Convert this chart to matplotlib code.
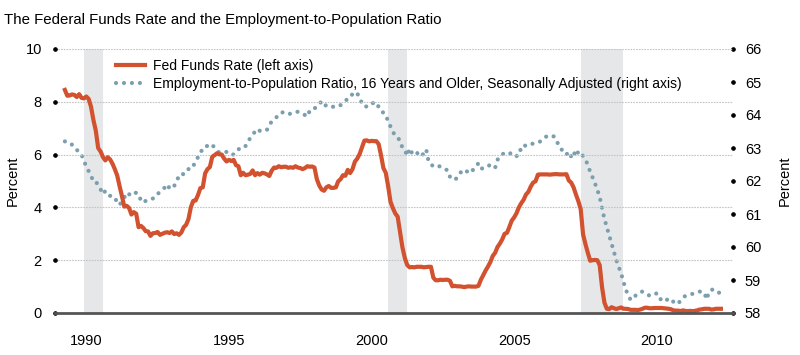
"""
Fed funds rate vs. employment-to-population ratio, 1990-2012
"""
import numpy as np
import matplotlib
matplotlib.use("Agg")
import matplotlib.pyplot as plt

plt.rcParams['font.family'] = ['Liberation Sans', 'DejaVu Sans']

# monthly series, first value = Dec 1989
START = 1989 + 11 / 12

FED_FUNDS = [
    8.45,
    8.23, 8.24, 8.28, 8.26, 8.18, 8.29, 8.15, 8.13, 8.20, 8.11, 7.81, 7.31,  # 1990
    6.91, 6.25, 6.12, 5.91, 5.78, 5.90, 5.82, 5.66, 5.45, 5.21, 4.81, 4.43,  # 1991
    4.03, 4.06, 3.98, 3.73, 3.82, 3.76, 3.25, 3.30, 3.22, 3.10, 3.09, 2.92,  # 1992
    3.02, 3.03, 3.07, 2.96, 3.00, 3.04, 3.06, 3.03, 3.09, 2.99, 3.02, 2.96,  # 1993
    3.05, 3.25, 3.34, 3.56, 4.01, 4.25, 4.26, 4.47, 4.73, 4.76, 5.29, 5.45,  # 1994
    5.53, 5.92, 5.98, 6.05, 6.01, 6.00, 5.85, 5.74, 5.80, 5.76, 5.80, 5.60,  # 1995
    5.56, 5.22, 5.31, 5.22, 5.24, 5.27, 5.40, 5.22, 5.30, 5.24, 5.31, 5.29,  # 1996
    5.25, 5.19, 5.39, 5.51, 5.50, 5.56, 5.52, 5.54, 5.54, 5.50, 5.52, 5.50,  # 1997
    5.56, 5.51, 5.49, 5.45, 5.49, 5.56, 5.54, 5.55, 5.51, 5.07, 4.83, 4.68,  # 1998
    4.63, 4.76, 4.81, 4.74, 4.74, 4.76, 4.99, 5.07, 5.22, 5.20, 5.42, 5.30,  # 1999
    5.45, 5.73, 5.85, 6.02, 6.27, 6.53, 6.54, 6.50, 6.52, 6.51, 6.51, 6.40,  # 2000
    5.98, 5.49, 5.31, 4.80, 4.21, 3.97, 3.77, 3.65, 3.07, 2.49, 2.09, 1.82,  # 2001
    1.73, 1.74, 1.73, 1.75, 1.75, 1.75, 1.73, 1.74, 1.75, 1.75, 1.34, 1.24,  # 2002
    1.24, 1.26, 1.25, 1.26, 1.26, 1.22, 1.01, 1.03, 1.01, 1.01, 1.00, 0.98,  # 2003
    1.00, 1.01, 1.00, 1.00, 1.00, 1.03, 1.26, 1.43, 1.61, 1.76, 1.93, 2.16,  # 2004
    2.28, 2.50, 2.63, 2.79, 3.00, 3.04, 3.26, 3.50, 3.62, 3.78, 4.00, 4.16,  # 2005
    4.29, 4.49, 4.59, 4.79, 4.94, 4.99, 5.24, 5.25, 5.25, 5.25, 5.25, 5.24,  # 2006
    5.25, 5.26, 5.26, 5.25, 5.25, 5.25, 5.26, 5.02, 4.94, 4.76, 4.49, 4.24,  # 2007
    3.94, 2.98, 2.61, 2.28, 1.98, 2.00, 2.01, 2.00, 1.81, 0.97, 0.39, 0.16,  # 2008
    0.15, 0.22, 0.18, 0.15, 0.18, 0.21, 0.16, 0.16, 0.15, 0.12, 0.12, 0.12,  # 2009
    0.11, 0.13, 0.16, 0.20, 0.20, 0.18, 0.18, 0.19, 0.19, 0.19, 0.19, 0.18,  # 2010
    0.17, 0.16, 0.14, 0.10, 0.09, 0.09, 0.07, 0.10, 0.08, 0.07, 0.08, 0.07,  # 2011
    0.08, 0.10, 0.13, 0.14, 0.16, 0.16, 0.16, 0.13, 0.14, 0.16, 0.16, 0.16,  # 2012
]

EMP_POP = [
    63.2,
    63.2, 63.15, 63.1, 63.0, 62.95, 62.85, 62.8, 62.6, 62.45, 62.3, 62.15, 62.0,  # 1990
    62.0, 61.85, 61.75, 61.6, 61.7, 61.6, 61.55, 61.55, 61.5, 61.35, 61.27, 61.4,  # 1991
    61.5, 61.65, 61.6, 61.55, 61.6, 61.65, 61.5, 61.45, 61.34, 61.4, 61.44, 61.45,  # 1992
    61.47, 61.5, 61.6, 61.68, 61.74, 61.8, 61.9, 61.78, 61.76, 61.85, 62.0, 62.15,  # 1993
    62.23, 62.2, 62.25, 62.36, 62.35, 62.45, 62.6, 62.72, 62.88, 62.95, 63.06, 63.06,  # 1994
    63.12, 63.1, 63.0, 62.92, 62.86, 62.87, 62.89, 62.88, 62.89, 62.82, 62.8, 62.88,  # 1995
    62.95, 63.04, 63.05, 63.06, 63.2, 63.3, 63.4, 63.5, 63.58, 63.52, 63.5, 63.53,  # 1996
    63.55, 63.7, 63.8, 63.88, 63.93, 64.03, 64.05, 64.1, 64.08, 64.05, 64.03, 64.05,  # 1997
    64.08, 64.1, 64.07, 64.03, 64.0, 63.95, 64.13, 64.13, 64.2, 64.25, 64.35, 64.4,  # 1998
    64.27, 64.3, 64.3, 64.25, 64.25, 64.25, 64.25, 64.3, 64.37, 64.42, 64.5, 64.6,  # 1999
    64.62, 64.7, 64.65, 64.53, 64.35, 64.25, 64.26, 64.27, 64.3, 64.4, 64.35, 64.25,  # 2000
    64.2, 64.05, 64.0, 63.8, 63.65, 63.5, 63.35, 63.3, 63.24, 63.0, 62.94, 62.76,  # 2001
    62.99, 62.85, 62.79, 62.86, 62.8, 62.74, 62.85, 62.96, 62.59, 62.5, 62.45, 62.47,  # 2002
    62.48, 62.42, 62.38, 62.35, 62.33, 62.13, 62.1, 62.03, 62.1, 62.18, 62.33, 62.33,  # 2003
    62.3, 62.23, 62.3, 62.35, 62.45, 62.54, 62.38, 62.38, 62.4, 62.46, 62.48, 62.4,  # 2004
    62.4, 62.64, 62.76, 62.8, 62.86, 62.86, 62.86, 62.8, 62.74, 62.74, 62.94, 62.94,  # 2005
    63.09, 63.06, 63.06, 63.1, 63.14, 63.15, 63.16, 63.2, 63.26, 63.33, 63.36, 63.39,  # 2006
    63.37, 63.34, 63.2, 63.04, 62.95, 62.92, 62.8, 62.89, 62.74, 62.89, 62.74, 62.89,  # 2007
    62.89, 62.75, 62.66, 62.48, 62.28, 62.11, 61.93, 61.73, 61.52, 61.17, 60.85, 60.6,  # 2008
    60.36, 60.1, 59.85, 59.6, 59.4, 59.2, 58.95, 58.7, 58.55, 58.4, 58.5, 58.52,  # 2009
    58.6, 58.63, 58.65, 58.6, 58.55, 58.53, 58.52, 58.55, 58.6, 58.45, 58.4, 58.34,  # 2010
    58.38, 58.45, 58.4, 58.34, 58.3, 58.27, 58.39, 58.45, 58.52, 58.53, 58.55, 58.58,  # 2011
    58.6, 58.62, 58.65, 58.64, 58.62, 58.41, 58.65, 58.7, 58.72, 58.68, 58.62, 58.6,  # 2012
]

RECESSIONS = [(1990.58, 1991.25), (2001.25, 2001.92), (2008.0, 2009.5)]
YEAR_LABELS = [1990, 1995, 2000, 2005, 2010]
LEFT_TICKS = [0, 2, 4, 6, 8, 10]
RIGHT_TICKS = [58, 59, 60, 61, 62, 63, 64, 65, 66]

ORANGE = "#d2512e"
BLUE = "#7b9fae"


def main():
    t = START + np.arange(len(FED_FUNDS)) / 12
    t2 = START + np.arange(len(EMP_POP)) / 12

    fig = plt.figure(figsize=(8, 3.55), dpi=100)
    ax = fig.add_axes([55 / 800, 42 / 355, 678 / 800, 264 / 355])
    ax2 = ax.twinx()
    ax.set_zorder(ax2.get_zorder() + 1)
    ax.patch.set_visible(False)

    # recession bands
    for a, b in RECESSIONS:
        ax2.axvspan(a, b, color="#e6e7e9", lw=0, zorder=0)

    ax2.plot(t2, EMP_POP, color=BLUE, lw=3.0, linestyle=(0, (0.01, 1.9)),
             dash_capstyle="round",
             label="Employment-to-Population Ratio, 16 Years and Older, Seasonally Adjusted (right axis)")
    ax.plot(t, FED_FUNDS, color=ORANGE, lw=3.0, solid_joinstyle="round",
            label="Fed Funds Rate (left axis)")

    ax.set_xlim(1989.57, 2013.34)
    ax.set_ylim(0, 10)
    ax2.set_ylim(58, 66)

    ax.set_yticks(LEFT_TICKS)
    ax2.set_yticks(RIGHT_TICKS)
    ax.set_xticks([y + 0.67 for y in YEAR_LABELS])
    ax.set_xticklabels([str(y) for y in YEAR_LABELS])

    ax.yaxis.grid(True, color="#c4c4c4", linestyle=(0, (1.5, 1)), lw=0.8)
    ax.set_axisbelow(True)

    for a in (ax, ax2):
        for s in ("top", "left", "right"):
            a.spines[s].set_visible(False)
    ax.spines["bottom"].set_color("#555555")
    ax.spines["bottom"].set_linewidth(2)
    ax2.spines["bottom"].set_visible(False)

    ax.tick_params(axis="x", length=0, pad=15, labelsize=10.5)
    ax.tick_params(axis="y", labelsize=10.5, pad=6)
    ax2.tick_params(axis="y", labelsize=10.5, pad=5)
    # dot-shaped tick marks
    for tk in ax.yaxis.get_major_ticks():
        tk.tick1line.set_marker("o")
        tk.tick1line.set_markersize(2.5)
        tk.tick1line.set_color("black")
    for tk in ax2.yaxis.get_major_ticks():
        tk.tick2line.set_marker("o")
        tk.tick2line.set_markersize(2.5)
        tk.tick2line.set_color("black")

    ax.set_ylabel("Percent", fontsize=10.5)
    ax2.set_ylabel("Percent", fontsize=10.5)
    ax.yaxis.set_label_coords(-0.052, 0.5)
    ax2.yaxis.set_label_coords(1.066, 0.5)

    h1, l1 = ax.get_legend_handles_labels()
    h2, l2 = ax2.get_legend_handles_labels()
    ax.legend(h1 + h2, l1 + l2, loc="upper left", bbox_to_anchor=(0.075, 1.0),
              frameon=False, fontsize=10, handlelength=2.1, handletextpad=0.6,
              labelspacing=0.3, borderaxespad=0.3)

    fig.text(0.005, 0.945, "The Federal Funds Rate and the Employment-to-Population Ratio",
             fontsize=10.8, ha="left", va="center")

    fig.savefig("out.png", dpi=100)
    plt.close(fig)


if __name__ == "__main__":
    main()
